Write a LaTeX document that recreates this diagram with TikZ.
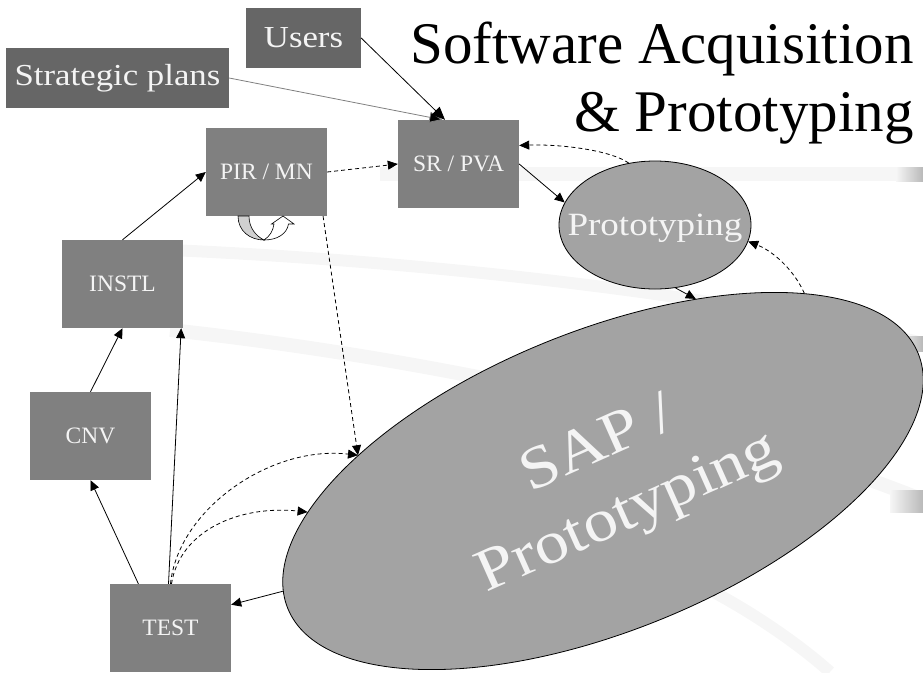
\documentclass[tikz,border=0pt]{standalone}
\usepackage{fontspec}
\setmainfont{Liberation Serif}
\newfontfamily\pala[FakeStretch=1.14]{Liberation Serif}
\usetikzlibrary{arrows.meta,shapes.geometric}
\definecolor{boxdark}{HTML}{666666}
\definecolor{boxmid}{HTML}{808080}
\definecolor{ellfill}{HTML}{A3A3A3}
\definecolor{txtw}{HTML}{F4F4F4}
\definecolor{bgline}{HTML}{F6F6F6}
\definecolor{loopgray}{HTML}{D0D0D0}
\begin{document}
\begin{tikzpicture}[x=1pt,y=-1pt,
  box/.style={rectangle, fill=boxmid, text=txtw, minimum width=121pt, minimum height=88pt, inner sep=0pt, font=\fontsize{23.5}{28}\selectfont},
  topbox/.style={rectangle, fill=boxdark, text=txtw, minimum height=60pt, inner sep=0pt, font=\pala\fontsize{30.5}{36}\selectfont},
  ellnode/.style={ellipse, draw, fill=ellfill, inner sep=0pt, line width=0.8pt},
  arr/.style={-{Triangle[length=10pt,width=9pt]}, line width=0.8pt},
  bigarr/.style={-{Triangle[length=13pt,width=11pt]}, line width=0.8pt},
  darr/.style={arr, dash pattern=on 4pt off 3pt},
  bgband/.style={bgline, line width=12pt},
  titlefont/.style={anchor=base east, font=\fontsize{59}{70}\selectfont}
]
\useasboundingbox (0,0) rectangle (923,672);
% faint background decoration
\draw[bgband] (170,250) .. controls (400,260) and (700,290) .. (923,343);
\draw[bgband, line width=14pt] (170,330) .. controls (450,360) and (750,430) .. (923,500);
\draw[bgband] (700,585) .. controls (750,610) and (800,645) .. (830,672);
\fill[bgline] (380,167) rectangle (923,181);
\shade[left color=bgline, right color=gray!55] (896,167) rectangle (923,181);
\shade[left color=bgline, right color=gray!55] (896,336) rectangle (923,351);
\shade[left color=bgline, right color=gray!55] (890,490) rectangle (923,512);

% nodes
\node[topbox, minimum width=115pt] (users) at (303.5,38) {Users};
\node[topbox, minimum width=223pt] (strat) at (117.5,78) {Strategic plans};
\node[box] (pir) at (266.5,172) {PIR / MN};
\node[box] (sr) at (458.5,164) {SR / PVA};
\node[box] (instl) at (122.5,284) {INSTL};
\node[box] (cnv) at (90.5,436) {CNV};
\node[box] (test) at (170.5,628) {TEST};
\node[ellnode, minimum width=192pt, minimum height=128pt] (proto) at (655,225) {};
\node[anchor=base, text=txtw, font=\pala\fontsize{32.5}{36}\selectfont] (protot) at (655,235) {Prototyping};
\node[ellnode, minimum width=680pt, minimum height=300pt, rotate=22] (sap) at (603,481) {};
\node[rotate=24, text=txtw, align=center, font=\pala\fontsize{60}{74}\selectfont] (sapt) at (614,481) {SAP /\\Prototyping};

% title
\node[titlefont] (t1) at (917,63) {Software Acquisition};
\node[titlefont] (t2) at (917,131) {\& Prototyping};

% self loop symbol under PIR / MN
\draw[line width=0.6pt, fill=loopgray] (238,216) .. controls (238,231) and (250,240) .. (264,240) .. controls (256,236) and (249,228) .. (249,216) -- cycle;
\draw[line width=0.6pt, fill=white] (274,224) -- (271.5,224) -- (283,216) -- (294,224) -- (288.5,224) .. controls (287,234) and (277,240) .. (264,240) .. controls (270,236) and (273,231) .. (274,224) -- cycle;

% connectors
\draw[bigarr, gray, -{Triangle[length=13pt,width=11pt,fill=black]}] (strat.east) -- (sr.110);
\draw[bigarr] (users.east) -- (sr.107);
\draw[darr] (pir.east) -- (sr.west);
\draw[arr] (instl.north) -- (pir.west);
\draw[arr] (cnv.north) -- (instl.south);
\draw[arr] ([xshift=-2pt]test.north) -- (instl.-37.4);
\draw[arr] (test.126) -- (cnv.south);
\draw[arr] (sap.177) -- (test.21);
\draw[darr] (test.north) .. controls (178,510) and (270,445) .. (sap.152);
\draw[darr] ([xshift=1pt]test.north) .. controls (180,530) and (240,505) .. (sap.164.5);
\draw[darr] (pir.-38.4) -- (sap.152);
\draw[arr] (sr.east) -- (proto.166);
\draw[darr] (proto.113) .. controls (610,150) and (560,144) .. (sr.17);
\draw[arr] (proto.-72) -- (sap.41);
\draw[darr] (sap.21.7) .. controls (795,272) and (775,252) .. (proto.-10);
\end{tikzpicture}
\end{document}
